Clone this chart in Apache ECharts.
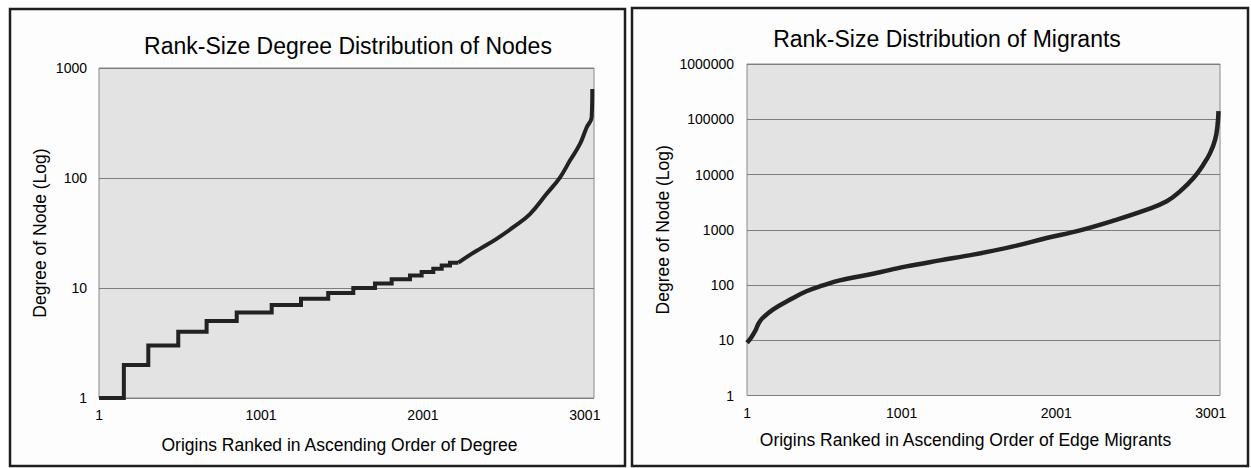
<!DOCTYPE html>
<html>
<head>
<meta charset="utf-8">
<script src="https://cdn.jsdelivr.net/npm/echarts@6/dist/echarts.min.js"></script>
<style>
html,body{margin:0;padding:0;background:#fff;}
#c{width:1251px;height:468px;}
</style>
</head>
<body>
<div id="c"></div>
<script>
// ---- data ----
const xTickLabels = [1, 1001, 2001, 3001];
const degreeTicks = [1, 10, 100, 1000];
const migrantTicks = [1, 10, 100, 1000, 10000, 100000, 1000000];

// Left chart: rank where each integer degree begins (step part)
const stepRanks   = [1, 154, 305, 490, 665, 851, 1067, 1248, 1416, 1571, 1705, 1808, 1921, 1993, 2065, 2117, 2168, 2220];
const stepDegrees = [1, 2, 3, 4, 5, 6, 7, 8, 9, 10, 11, 12, 13, 14, 15, 16, 17, 17];
// Left chart: upper (continuous-looking) part
const curveRanks   = [2220, 2292, 2353, 2456, 2559, 2662, 2765, 2847, 2909, 2971, 3012, 3043, 3047];
const curveDegrees = [17, 20, 22.7, 28, 35.7, 47, 71.8, 101, 144, 204, 288, 355, 644];

// Right chart: migrants by rank
const migrantRanks  = [1, 30, 55, 75, 100, 168, 277, 385, 492, 600, 816, 1032, 1248, 1464, 1723, 1939, 2155, 2371, 2587, 2716, 2802, 2889, 2953, 2997, 3029, 3044, 3051];
const migrantValues = [9, 11.5, 15, 20, 25, 36, 54, 77, 98, 121, 160, 217, 279, 355, 500, 710, 975, 1460, 2310, 3270, 4960, 8670, 15100, 24600, 42900, 74600, 140000];

const leftCategories = 3057;
const rightCategories = 3060;

const zip = (a, b) => a.map((v, i) => [v, b[i]]);

const FONT = '"Liberation Sans", Arial, Helvetica, sans-serif';
const TXT = '#000';

const chart = echarts.init(document.getElementById('c'), null, {renderer: 'svg'});

function xAxisCfg(gridIndex, maxCat, name, padRight, gap) {
  return {
    type: 'value', gridIndex, min: 0.5, max: maxCat + 0.5,
    name, nameLocation: 'middle', nameGap: gap,
    nameTextStyle: {fontFamily: FONT, fontSize: 17.5, color: TXT, padding: [0, padRight, 0, 0]},
    axisLine: {show: false}, axisTick: {show: false}, splitLine: {show: false},
    axisLabel: {customValues: xTickLabels, fontFamily: FONT, fontSize: 14, color: TXT, margin: 10,
      formatter: v => String(v)}
  };
}
function yAxisCfg(gridIndex, maxV, splits, gap, margin) {
  return {
    type: 'log', logBase: 10, gridIndex, min: 1, max: maxV, splitNumber: splits,
    name: 'Degree of Node (Log)', nameLocation: 'middle', nameGap: gap,
    nameTextStyle: {fontFamily: FONT, fontSize: 17.5, color: TXT},
    axisLine: {show: false}, axisTick: {show: false},
    splitLine: {show: true, lineStyle: {color: '#7d7d7d', width: 1}},
    axisLabel: {fontFamily: FONT, fontSize: 14, color: TXT, margin, formatter: v => String(v)}
  };
}

const lineStyle = {color: '#222', width: 4, cap: 'butt', join: 'miter'};

chart.setOption({
  animation: false,
  backgroundColor: '#fff',
  title: [
    {text: 'Rank-Size Degree Distribution of Nodes', left: 348, top: 34, textAlign: 'center', padding: 0,
     textStyle: {fontFamily: FONT, fontSize: 23, fontWeight: 'normal', color: TXT}},
    {text: 'Rank-Size Distribution of Migrants', left: 947, top: 27, textAlign: 'center', padding: 0,
     textStyle: {fontFamily: FONT, fontSize: 23, fontWeight: 'normal', color: TXT}}
  ],
  graphic: [
    {type: 'rect', shape: {x: 10, y: 9, width: 615, height: 457}, z: -1,
     style: {fill: '#fdfdfd', stroke: '#1e1e1e', lineWidth: 2.5}},
    {type: 'rect', shape: {x: 632, y: 8, width: 616, height: 458}, z: -1,
     style: {fill: '#fdfdfd', stroke: '#1e1e1e', lineWidth: 2.5}}
  ],
  grid: [
    {left: 99, top: 68, width: 495, height: 330, show: true, backgroundColor: '#e3e3e3', borderColor: '#8a8a8a', borderWidth: 1},
    {left: 747, top: 64, width: 473, height: 331.5, show: true, backgroundColor: '#e3e3e3', borderColor: '#8a8a8a', borderWidth: 1}
  ],
  xAxis: [
    xAxisCfg(0, leftCategories, 'Origins Ranked in Ascending Order of Degree', 14, 38),
    xAxisCfg(1, rightCategories, 'Origins Ranked in Ascending Order of Edge Migrants', 36, 35)
  ],
  yAxis: [
    yAxisCfg(0, 1000, 3, 50, 12),
    yAxisCfg(1, 1000000, 6, 75, 13)
  ],
  series: [
    {type: 'line', xAxisIndex: 0, yAxisIndex: 0, step: 'end', showSymbol: false, symbol: 'none',
     data: zip(stepRanks, stepDegrees), lineStyle},
    {type: 'line', xAxisIndex: 0, yAxisIndex: 0, smooth: 0.4, showSymbol: false, symbol: 'none',
     data: zip(curveRanks, curveDegrees), lineStyle},
    {type: 'line', xAxisIndex: 1, yAxisIndex: 1, smooth: 0.4, showSymbol: false, symbol: 'none',
     data: zip(migrantRanks, migrantValues), lineStyle: Object.assign({}, lineStyle, {width: 4.5})}
  ]
});
</script>
</body>
</html>
